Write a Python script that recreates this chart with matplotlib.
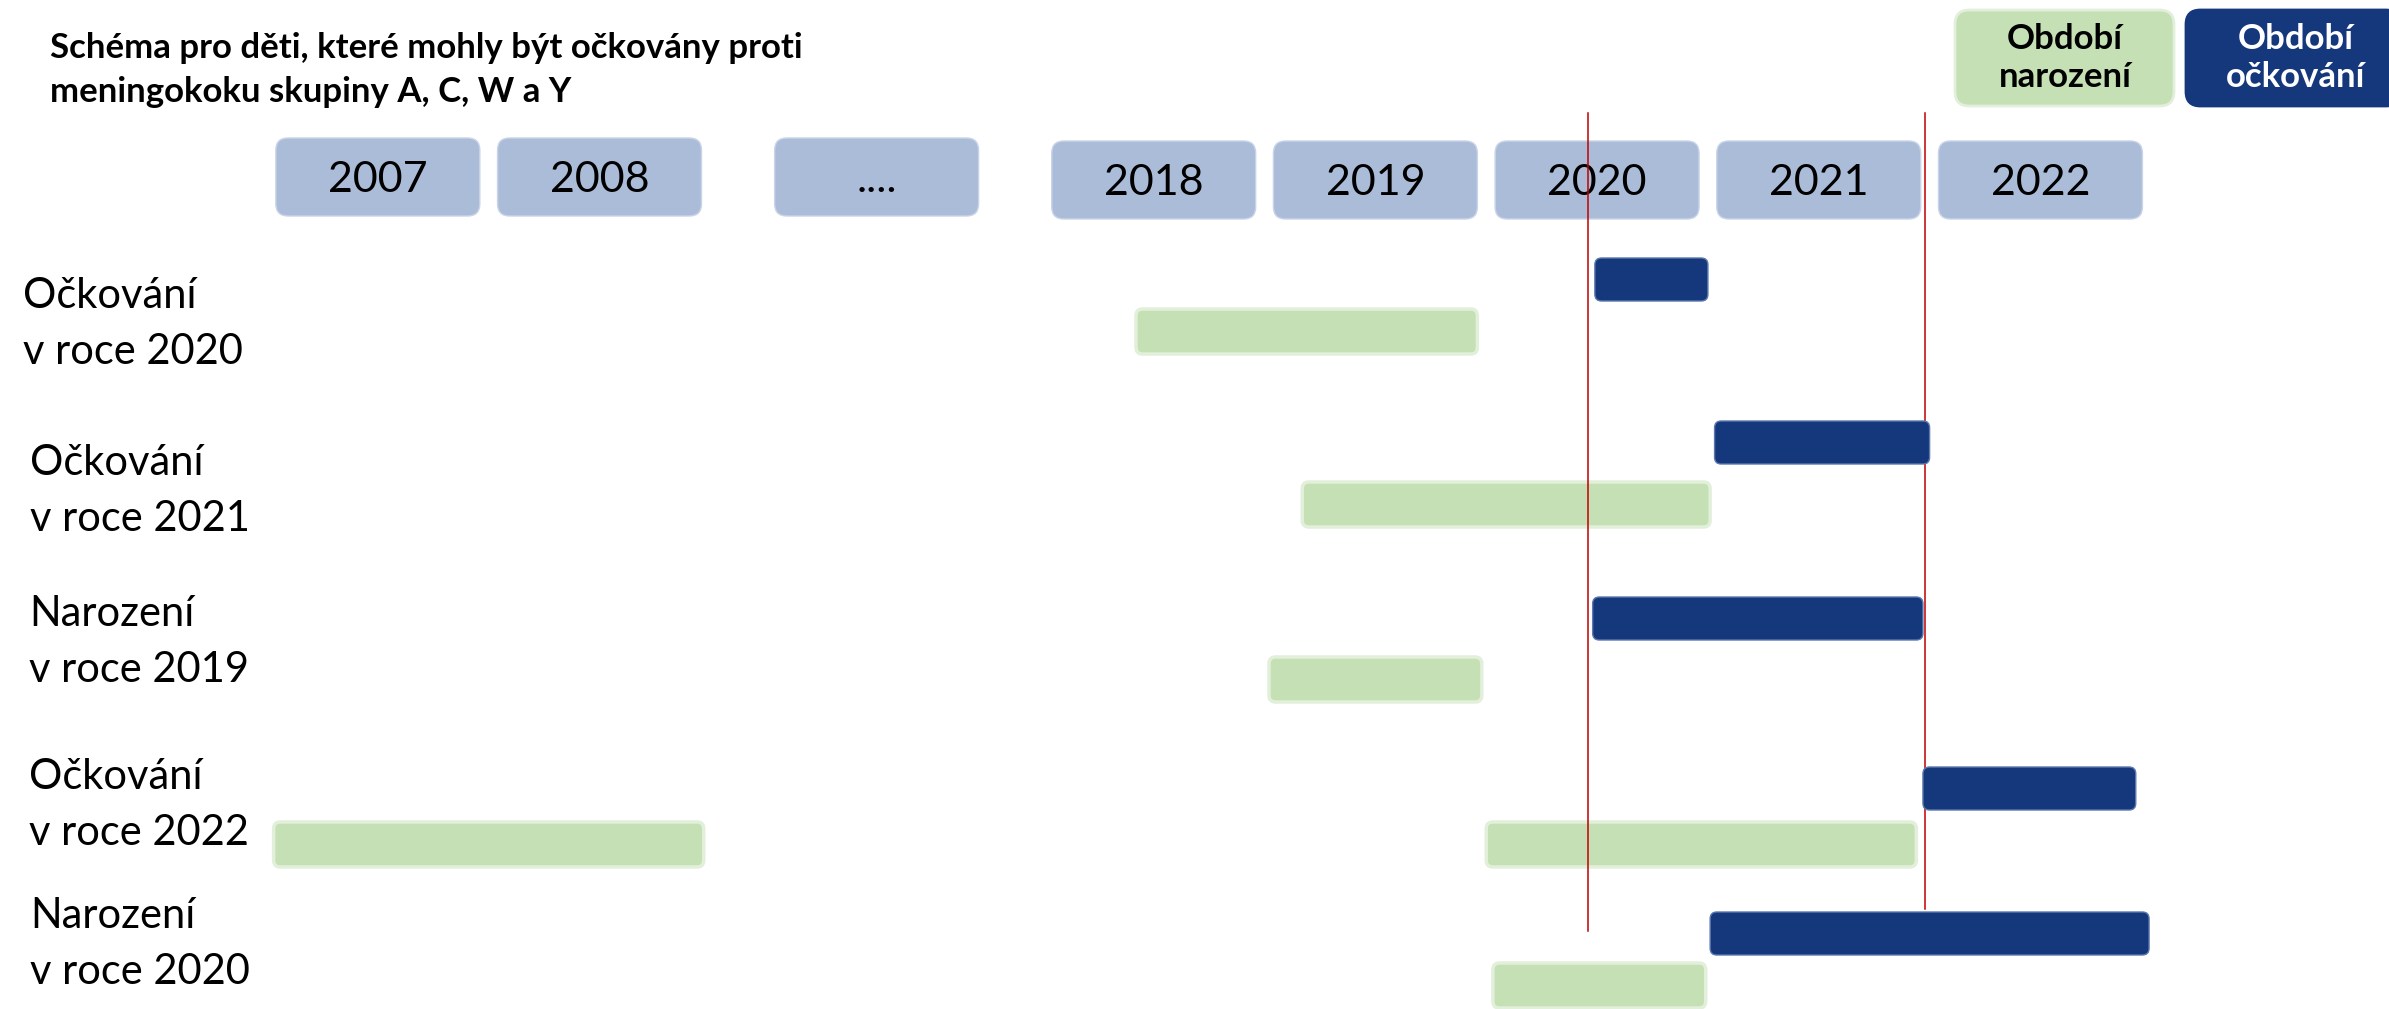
import matplotlib
matplotlib.use('Agg')
import matplotlib.pyplot as plt
from matplotlib.patches import FancyBboxPatch

plt.rcParams['font.family'] = ['Lato', 'DejaVu Sans']

# popisky roku (horni rada)
year_labels = ['2007', '2008', '....', '2018', '2019', '2020', '2021', '2022']
# radky schematu
row_labels = ['Očkování\nv roce 2020', 'Očkování\nv roce 2021', 'Narození\nv roce 2019',
              'Očkování\nv roce 2022', 'Narození\nv roce 2020']
# obdobi ockovani (modre)
vacc_start = [2020.49, 2021.03, 2020.48, 2021.97, 2021.01]
vacc_end = [2021.00, 2022.00, 2021.97, 2022.93, 2022.99]
# obdobi narozeni (zelene)
birth_start = [2018.42, 2019.17, 2019.02, 2020.00, 2020.03]
birth_end = [2019.96, 2021.01, 2019.98, 2021.94, 2020.99]
# zelene obdobi pod 2007-2008 (radek 4)
extra_row = 3
extra_start, extra_end = 2007.03, 2008.97
# cervene hranice
cutoffs = [2020.46, 2021.98]

title = 'Schéma pro děti, které mohly být očkovány proti\nmeningokoku skupiny A, C, W a Y'

GREEN = '#C5E0B4'
BLUE = '#15387C'
BOXC = '#ABBCD9'
RED = '#C00000'

# layout (pixely odshora)
box_slot = [0, 1, 2.25, 3.5, 4.5, 5.5, 6.5, 7.5]
box_top = [138, 138, 138, 141, 141, 141, 141, 141]
blue_top = [258, 421, 597, 767, 912]
green_top = [309, 482, 657, 822, 963]
label_x = [23, 30, 29, 29, 30]
label_y = [324, 491, 642, 805, 944]
line_bottom = [931, 909]

SLOT_PX = 221.68
X0_PX = 267.0
W, H = 2389, 1009


def to_slot(year):
    if year < 2010:
        return year - 2007
    return 3.5 + (year - 2018)


fig = plt.figure(figsize=(W / 100, H / 100), dpi=100)
ax = fig.add_axes([0, 0, 1, 1])
ax.set_xlim(-X0_PX / SLOT_PX, (W - X0_PX) / SLOT_PX)
ax.set_ylim(H, 0)
ax.axis('off')


def rbox(x0, x1, y0, h, fc, ec, r=0.03, lw=1.5, z=2):
    p = FancyBboxPatch((x0, y0), x1 - x0, h,
                       boxstyle=f'round,pad=0,rounding_size={r}',
                       mutation_aspect=SLOT_PX, fc=fc, ec=ec, lw=lw, zorder=z)
    ax.add_patch(p)


# roky
for lab, s, t in zip(year_labels, box_slot, box_top):
    rbox(s + 0.04, s + 0.96, t, 78, BOXC, '#C9D4E8', r=0.055, lw=1)
    ax.text(s + 0.5, t + 54, lab, ha='center', va='baseline', fontsize=31, color='black')

# zelene a modre pruhy
for i in range(len(row_labels)):
    rbox(to_slot(birth_start[i]), to_slot(birth_end[i]), green_top[i], 45, GREEN, '#E2EFDA', lw=2.5, z=2)
    rbox(to_slot(vacc_start[i]), to_slot(vacc_end[i]), blue_top[i], 43, BLUE, '#5C78AE', lw=1, z=4)
    ax.text(label_x[i] / SLOT_PX - X0_PX / SLOT_PX, label_y[i], row_labels[i],
            ha='left', va='center', fontsize=30, linespacing=1.6)
rbox(to_slot(extra_start), to_slot(extra_end), green_top[extra_row], 45, GREEN, '#E2EFDA', lw=2.5, z=2)

# cervene cary
for c, b in zip(cutoffs, line_bottom):
    ax.plot([to_slot(c), to_slot(c)], [113, b], color=RED, lw=1.1, zorder=3)

# nadpis
fig.text(50 / W, 1 - 70 / H, title, ha='left', va='center', fontsize=25,
         fontweight='bold', linespacing=1.45)

# legenda
leg = [(1955, 2174, GREEN, '#E2EFDA', 'black', 'Období\nnarození'),
       (2186, 2400, BLUE, BLUE, 'white', 'Období\nočkování')]
for x0, x1, fc, ec, tc, txt in leg:
    p = FancyBboxPatch((x0 / W, 1 - 106 / H), (x1 - x0) / W, 96 / H,
                       boxstyle='round,pad=0,rounding_size=0.006',
                       mutation_aspect=W / H, fc=fc, ec=ec, lw=2,
                       transform=fig.transFigure)
    fig.patches.append(p)
    fig.text((x0 + 110) / W, 1 - 58 / H, txt, ha='center', va='center',
             fontsize=25, fontweight='bold', color=tc, linespacing=1.25)

fig.savefig('out.png', dpi=100)
